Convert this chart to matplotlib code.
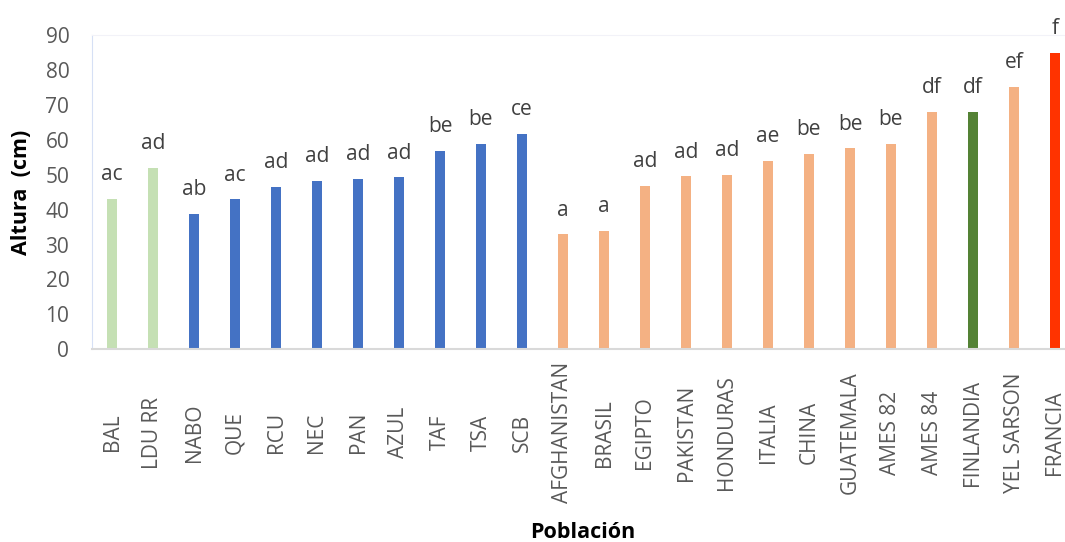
import numpy as np
import matplotlib.pyplot as plt

plt.rcParams['font.family'] = ['Open Sans', 'DejaVu Sans']

poblaciones = ['BAL', 'LDU RR', 'NABO', 'QUE', 'RCU', 'NEC', 'PAN', 'AZUL', 'TAF', 'TSA', 'SCB',
               'AFGHANISTAN', 'BRASIL', 'EGIPTO', 'PAKISTAN', 'HONDURAS', 'ITALIA', 'CHINA',
               'GUATEMALA', 'AMES 82', 'AMES 84', 'FINLANDIA', 'YEL SARSON', 'FRANCIA']
altura = [43.0, 52.0, 38.8, 42.9, 46.4, 48.3, 48.9, 49.2, 56.8, 58.8, 61.7,
          32.9, 33.8, 46.7, 49.5, 49.9, 54.0, 56.0, 57.5, 58.9, 68.0, 68.0, 75.0, 84.9]
letras = ['ac', 'ad', 'ab', 'ac', 'ad', 'ad', 'ad', 'ad', 'be', 'be', 'ce',
          'a', 'a', 'ad', 'ad', 'ad', 'ae', 'be', 'be', 'be', 'df', 'df', 'ef', 'f']
grupo = ['verde'] * 2 + ['azul'] * 9 + ['naranja'] * 10 + ['verde_osc'] + ['naranja'] + ['rojo']
colores_grupo = {'verde': '#C5E0B4', 'azul': '#4472C4', 'naranja': '#F4B183',
                 'verde_osc': '#548235', 'rojo': '#FF3300'}

fig = plt.figure(figsize=(10.65, 5.42), dpi=100)
ax = fig.add_axes([91.5 / 1065, 192.7 / 542, 984 / 1065, 314.3 / 542])

x = np.arange(len(poblaciones))
colores = [colores_grupo[g] for g in grupo]
ax.bar(x, altura, width=0.26, color=colores, zorder=2)

# letras de la comparacion de medias sobre cada barra
for xi, h, l in zip(x, altura, letras):
    ax.annotate(l, (xi, h), xytext=(0, 10), textcoords='offset points',
                ha='center', va='bottom', fontsize=15, color='#404040')

ax.set_xlim(-0.5, len(poblaciones) - 0.5)
ax.set_ylim(0, 90)
ax.set_yticks(range(0, 91, 10))
ax.tick_params(axis='y', length=0, pad=16, labelsize=15, labelcolor='#595959')
ax.set_xticks(x)
ax.set_xticklabels(poblaciones, rotation=90, va='center', ha='center')
ax.tick_params(axis='x', length=0, pad=60, labelsize=15, labelcolor='#595959')

ax.spines['left'].set_color('#D6E0F5')
ax.spines['top'].set_color('#F2F2F8')
ax.spines['right'].set_visible(False)
ax.spines['bottom'].set_color('#D9D9D9')
ax.spines['bottom'].set_linewidth(1.5)

ax.set_ylabel('Altura  (cm)', fontsize=15.5, fontweight='bold', color='black', labelpad=10)
fig.text(583 / 1065, 1 - 532 / 542, 'Población', fontsize=15.5, fontweight='bold',
         color='black', ha='center', va='center')

plt.savefig('out.png', dpi=100)
